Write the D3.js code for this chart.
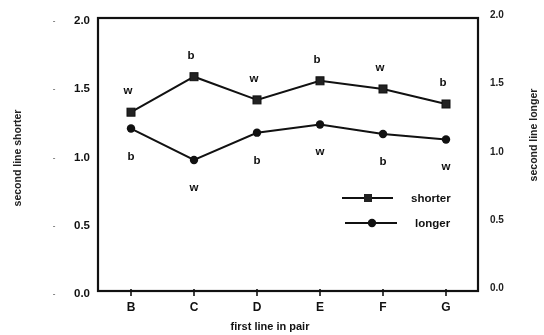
<!DOCTYPE html>
<html><head><meta charset="utf-8">
<script src="https://cdn.jsdelivr.net/npm/d3@7"></script>
<style>body{margin:0;background:#fff}svg{display:block;font-family:"Liberation Sans",Arial,sans-serif;font-weight:bold;will-change:transform}</style>
</head><body>
<script>
const categories = ["B","C","D","E","F","G"];
const shorterValues = [1.31, 1.57, 1.40, 1.54, 1.48, 1.37];
const longerValues = [1.19, 0.96, 1.16, 1.22, 1.15, 1.11];
const shorterLabels = ["w","b","w","b","w","b"];
const longerLabels = ["b","w","b","w","b","w"];
const yTicks = [0, 0.5, 1.0, 1.5, 2.0];

(function(){
const W = 544, H = 335;
const svg = d3.select("body").append("svg").attr("width", W).attr("height", H);
const pLeft = 98, pRight = 478, pTop = 18, pBottom = 291;

const x = d3.scalePoint().domain(categories).range([131, 446]);
const y = d3.scaleLinear().domain([0, 2]).range([pBottom, pTop]);

// frame
svg.append("rect").attr("x", pLeft).attr("y", pTop).attr("width", pRight-pLeft).attr("height", pBottom-pTop)
  .attr("fill", "none").attr("stroke", "#111").attr("stroke-width", 2.2);

// x ticks
const xAxis = svg.append("g");
categories.forEach(c => {
  xAxis.append("line").attr("x1", x(c)).attr("x2", x(c)).attr("y1", pBottom-2).attr("y2", pBottom+5)
    .attr("stroke", "#111").attr("stroke-width", 1.6);
  xAxis.append("text").attr("x", x(c)).attr("y", pBottom+20).attr("text-anchor", "middle")
    .attr("font-size", 12).attr("fill", "#111").text(c);
});

// y tick labels
yTicks.forEach(t => {
  svg.append("text").attr("x", 90).attr("y", y(t) + 6).attr("text-anchor", "end")
    .attr("font-size", 11.5).attr("fill", "#111").text(t.toFixed(1));
  svg.append("text").attr("x", 54).attr("y", y(t) + 5).attr("text-anchor", "middle")
    .attr("font-size", 8).attr("fill", "#777").text("-");
  svg.append("text").attr("x", 490).attr("y", y(t) + 0).attr("text-anchor", "start")
    .attr("font-size", 10).attr("fill", "#222").text(t.toFixed(1));
});

// axis titles
svg.append("text").attr("transform", `translate(21,158) rotate(-90)`).attr("text-anchor", "middle")
  .attr("font-size", 10.5).attr("fill", "#222").text("second line shorter");
svg.append("text").attr("transform", `translate(537,135) rotate(-90)`).attr("text-anchor", "middle")
  .attr("font-size", 10.5).attr("fill", "#222").text("second line longer");
svg.append("text").attr("x", 270).attr("y", 330).attr("text-anchor", "middle")
  .attr("font-size", 11).attr("fill", "#111").text("first line in pair");

const line = d3.line().x((d,i) => x(categories[i])).y(d => y(d));

// shorter series
svg.append("path").datum(shorterValues).attr("d", line).attr("fill", "none")
  .attr("stroke", "#111").attr("stroke-width", 2);
svg.selectAll(".sq").data(shorterValues).join("rect")
  .attr("x", (d,i) => x(categories[i]) - 4).attr("y", d => y(d) - 4)
  .attr("width", 8).attr("height", 8).attr("fill", "#222").attr("stroke", "#111");
svg.selectAll(".sl").data(shorterValues).join("text")
  .attr("x", (d,i) => x(categories[i]) - 3).attr("y", d => y(d) - 18)
  .attr("text-anchor", "middle").attr("font-size", 11.5).attr("fill", "#111")
  .text((d,i) => shorterLabels[i]);

// longer series
svg.append("path").datum(longerValues).attr("d", line).attr("fill", "none")
  .attr("stroke", "#111").attr("stroke-width", 2);
svg.selectAll(".ci").data(longerValues).join("circle")
  .attr("cx", (d,i) => x(categories[i])).attr("cy", d => y(d)).attr("r", 4.2).attr("fill", "#111");
svg.selectAll(".ll").data(longerValues).join("text")
  .attr("x", (d,i) => x(categories[i])).attr("y", d => y(d) + 31)
  .attr("text-anchor", "middle").attr("font-size", 11.5).attr("fill", "#111")
  .text((d,i) => longerLabels[i]);

// legend
const lg = svg.append("g");
lg.append("line").attr("x1", 342).attr("x2", 393).attr("y1", 198).attr("y2", 198).attr("stroke", "#111").attr("stroke-width", 2);
lg.append("rect").attr("x", 364).attr("y", 194).attr("width", 8).attr("height", 8).attr("fill", "#222");
lg.append("text").attr("x", 411).attr("y", 202).attr("font-size", 11.5).attr("fill", "#111").text("shorter");
lg.append("line").attr("x1", 345).attr("x2", 397).attr("y1", 223).attr("y2", 223).attr("stroke", "#111").attr("stroke-width", 2);
lg.append("circle").attr("cx", 372).attr("cy", 223).attr("r", 4.2).attr("fill", "#111");
lg.append("text").attr("x", 415).attr("y", 227).attr("font-size", 11.5).attr("fill", "#111").text("longer");
})();
</script>
</body></html>
